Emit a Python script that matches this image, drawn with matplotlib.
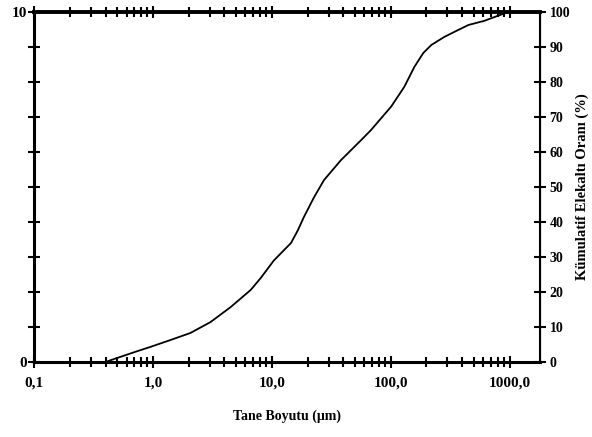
import matplotlib
matplotlib.use("Agg")
import matplotlib.pyplot as plt
from matplotlib.ticker import LogLocator, NullFormatter

plt.rcParams['font.family'] = ['Liberation Serif', 'DejaVu Serif']

# Data: particle size (um) vs cumulative passing (%)
size_um = [0.40, 0.44, 0.71, 0.95, 1.41, 2.07, 3.05, 4.51, 6.65, 8.07, 10.4,
           14.5, 16.6, 18.6, 22.6, 27.5, 38.2, 56.4, 68.4, 101, 130, 158,
           188, 220, 283, 371, 451, 615, 807, 982]
cum_pct = [0.0, 0.5, 2.9, 4.3, 6.3, 8.3, 11.4, 15.7, 20.6, 24.0, 29.0,
           34.0, 37.7, 41.4, 47.0, 52.0, 57.7, 63.4, 66.3, 73.0, 78.6, 84.3,
           88.3, 90.6, 92.9, 94.9, 96.3, 97.5, 99.0, 100.0]

x_ticks = [0.1, 1, 10, 100, 1000]
x_labels = ["0,1", "1,0", "10,0", "100,0", "1000,0"]
left_ticks = list(range(0, 11))
left_labels = ["0"] + [""] * 9 + ["10"]
right_ticks = list(range(0, 101, 10))
right_labels = [str(v) for v in right_ticks]

fig = plt.figure(figsize=(5.92, 4.37), dpi=100)
ax = fig.add_axes([0.0574, 0.1716, 0.8547, 0.8009])
ax.set_xscale('log')
ax.set_xlim(0.1, 1800)
ax.set_ylim(0, 10)
ax.set_xticks(x_ticks)
ax.set_xticklabels(x_labels, fontsize=11, fontweight='bold')
ax.xaxis.set_minor_locator(LogLocator(base=10, subs=range(2, 10)))
ax.xaxis.set_minor_formatter(NullFormatter())
ax.set_yticks(left_ticks)
ax.set_yticklabels(left_labels, fontsize=11, fontweight='bold')
ax.tick_params(axis='x', which='major', direction='inout', length=9, width=1.5,
               top=True, bottom=True, pad=6)
ax.tick_params(axis='x', which='minor', direction='inout', length=7, width=1.5,
               top=True, bottom=True)
ax.tick_params(axis='y', which='major', direction='inout', length=8, width=1.5, pad=1)
for s in ['left', 'bottom']:
    ax.spines[s].set_linewidth(2.2)
ax.spines['top'].set_linewidth(2.8)
ax.spines['right'].set_linewidth(1.5)

ax2 = ax.twinx()
ax2.set_ylim(0, 100)
ax2.set_yticks(right_ticks)
ax2.set_yticklabels(right_labels, fontsize=10, fontweight='bold')
ax2.tick_params(axis='y', direction='inout', length=8, width=1.5, pad=3)
ax2.plot(size_um, cum_pct, color='black', linewidth=1.3)
ax2.set_ylabel("Kümulatif Elekaltı Oranı (%)", fontsize=10.5, fontweight='bold',
               labelpad=4)

ax.set_xlabel("Tane Boyutu (μm)", fontsize=10, fontweight='bold', labelpad=14)

fig.savefig("out.png", dpi=100)
